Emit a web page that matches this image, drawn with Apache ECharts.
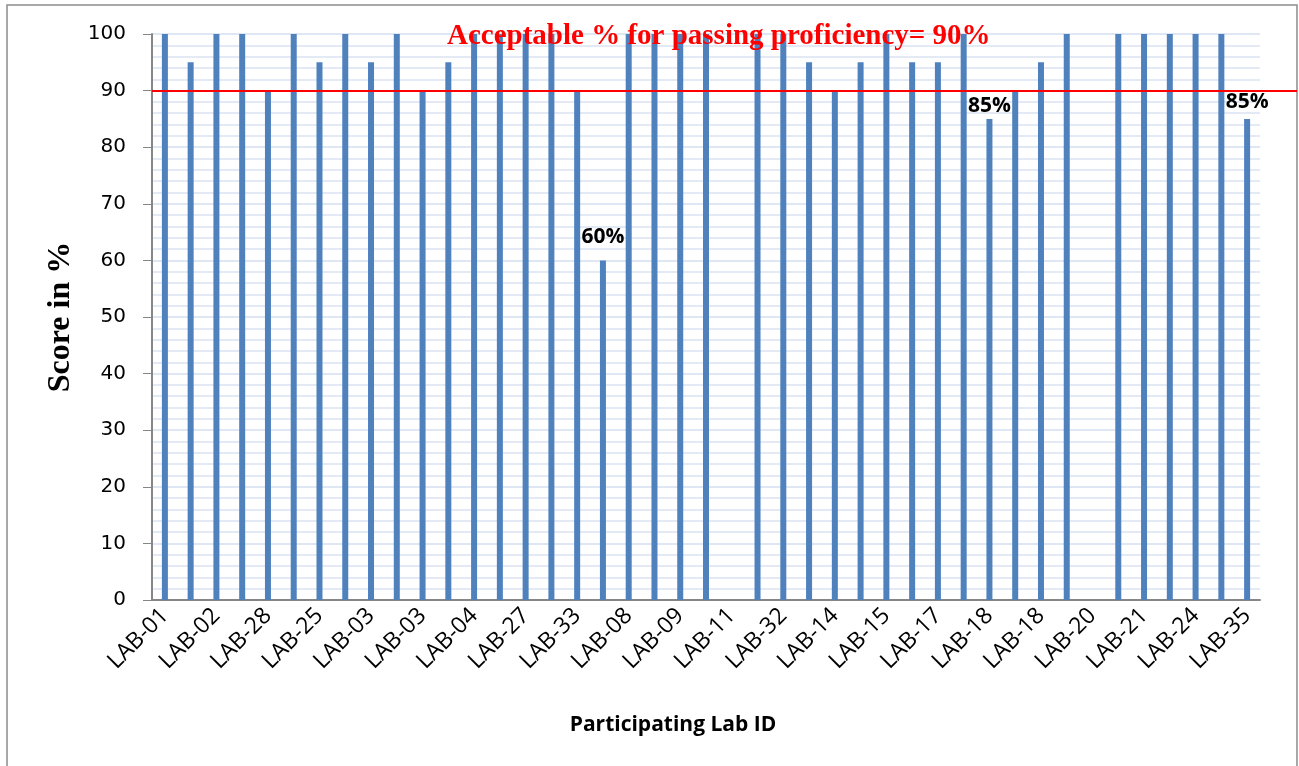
<!DOCTYPE html>
<html>
<head>
<meta charset="utf-8">
<script src="https://cdn.jsdelivr.net/npm/echarts@6/dist/echarts.min.js"></script>
<style>
html,body{margin:0;padding:0;background:#fff;}
#main{width:1299px;height:766px;}
</style>
</head>
<body>
<div id="main"></div>
<script>
// lab ids, only every other one is printed on the axis
var labIds = ['LAB-01','','LAB-02','','LAB-28','','LAB-25','','LAB-03','','LAB-03','','LAB-04','','LAB-27','','LAB-33','',
	'LAB-08','','LAB-09','','LAB-11','','LAB-32','','LAB-14','','LAB-15','','LAB-17','','LAB-18','','LAB-18','',
	'LAB-20','','LAB-21','','LAB-24','','LAB-35'];
var scores = [100,95,100,100,90,100,95,100,95,100,90,95,100,100,100,100,90,60,100,100,100,100,null,100,100,95,90,95,
	100,95,95,100,85,90,95,100,null,100,100,100,100,100,85];
var labelled = [17,32,42];
var passMark = 90;
var yTicks = [0,10,20,30,40,50,60,70,80,90,100];
var titleText = 'Acceptable % for passing proficiency= 90%';

var labelGap = {17:13, 32:2, 42:6};
var barData = scores.map(function(v,i){
	if(labelled.indexOf(i) < 0) return v;
	return {value:v, label:{show:true, position:'top', distance:labelGap[i], formatter:'{c}%',
		fontFamily:'Open Sans', fontWeight:'bold', fontSize:21, color:'#000'}};
});

var chart = echarts.init(document.getElementById('main'));
var option = {
	backgroundColor:'#fff',
	animation:false,
	title:{
		text:titleText, left:442, top:17,
		textStyle:{fontFamily:'Liberation Serif', fontWeight:'bold', fontSize:29, color:'#ff0000', lineHeight:30}
	},
	graphic:[{
		type:'rect', shape:{x:7,y:5,width:1290,height:775},
		style:{fill:'none', stroke:'#8c8c8c', lineWidth:1.5}, silent:true
	}],
	grid:{left:152, right:39, top:34, bottom:166},
	xAxis:{
		type:'category', data:labIds,
		axisLine:{lineStyle:{color:'#868686', width:2}},
		axisTick:{show:false},
		axisLabel:{interval:0, rotate:45, margin:12, fontFamily:'Open Sans', fontSize:23, color:'#000'},
		name:'Participating Lab ID', nameLocation:'middle', nameGap:115,
		nameTextStyle:{fontFamily:'Open Sans', fontWeight:'bold', fontSize:21, color:'#000', padding:[0,66,0,0]}
	},
	yAxis:{
		type:'value', min:yTicks[0], max:yTicks[yTicks.length-1], interval:10,
		axisLine:{show:true, lineStyle:{color:'#868686', width:2}},
		axisTick:{show:true, length:9, lineStyle:{color:'#868686'}},
		axisLabel:{fontFamily:'DejaVu Sans', fontSize:20, color:'#000', margin:26},
		splitLine:{show:true, lineStyle:{color:'#d5dff0', width:1.5}},
		minorTick:{show:false, splitNumber:5},
		minorSplitLine:{show:true, lineStyle:{color:'#dbe3f2', width:1.5}},
		name:'Score in %', nameLocation:'middle', nameGap:68, nameRotate:90,
		nameTextStyle:{fontFamily:'Liberation Serif', fontWeight:'bold', fontSize:32, color:'#000'}
	},
	series:[{
		type:'bar', data:barData, barWidth:6,
		itemStyle:{color:'#4f81bd'}
	}]
};
chart.setOption(option);

// red pass line runs on to the right frame, like the original
var yPass = chart.convertToPixel({yAxisIndex:0}, passMark);
chart.setOption({series:[{
	markLine:{
		silent:true, symbol:'none', label:{show:false},
		lineStyle:{color:'#ff0000', width:2, type:'solid'},
		data:[[{x:152, y:yPass},{x:1297, y:yPass}]]
	}
}]});
</script>
</body>
</html>
